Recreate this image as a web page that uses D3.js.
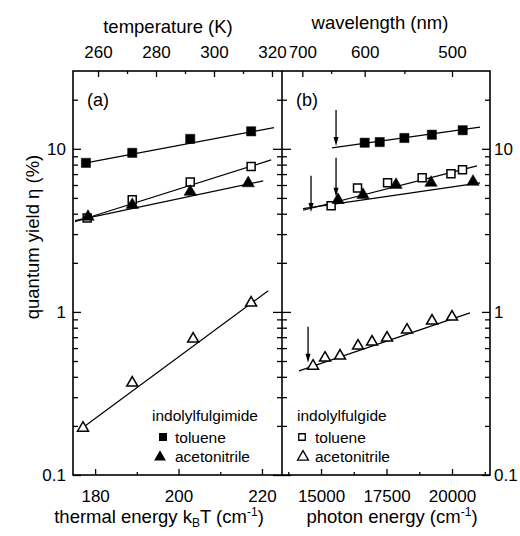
<!DOCTYPE html>
<html>
<head>
<meta charset="utf-8">
<script src="https://cdn.jsdelivr.net/npm/d3@7"></script>
<style>
body { margin: 0; background: #fff; }
svg { font-family: "Liberation Sans", Arial, sans-serif; }
</style>
</head>
<body>
<svg width="520" height="536"></svg>
<script>
// kB in cm^-1 per K
var kB = 0.695;

// panel (a): thermal energy (cm^-1) vs quantum yield (%)
var thermFgmTol = [[177.8, 8.2], [188.9, 9.45], [202.8, 11.5], [217.4, 12.8]];
var thermFgdTol = [[178.1, 3.77], [188.9, 4.87], [202.8, 6.27], [217.4, 7.8]];
var thermFgmAcn = [[178.3, 3.83], [188.9, 4.53], [202.8, 5.45], [216.7, 6.15]];
var thermFgdAcn = [[177.1, 0.194], [188.9, 0.367], [203.5, 0.683], [217.4, 1.135]];

// panel (b): photon energy (cm^-1) vs quantum yield (%)
var photFgmTol = [[16667, 10.9], [17241, 11.0], [18182, 11.65], [19231, 12.2], [20408, 13.0]];
var photFgdTol = [[15385, 4.47], [16393, 5.76], [17540, 6.19], [18860, 6.64], [19960, 7.03], [20400, 7.43]];
var photFgmAcn = [[15649, 4.86], [16603, 5.22], [17863, 6.01], [19198, 6.19], [20802, 6.28]];
var photFgdAcn = [[14695, 0.466], [15153, 0.522], [15725, 0.537], [16412, 0.619], [16947, 0.655],
                  [17519, 0.693], [18282, 0.775], [19237, 0.881], [20000, 0.932]];

// fitted lines, [start, end]
var thermFits = {
  fgmTol: [[177.8, 8.2], [222.9, 13.5]],
  fgdTol: [[175.2, 3.57], [222.2, 8.55]],
  fgmAcn: [[175.2, 3.63], [220.3, 6.36]],
  fgdAcn: [[175.7, 0.184], [221.5, 1.35]]
};
var photFits = {
  fgmTol: [[15420, 10.14], [21069, 13.6]],
  fgdTol: [[14313, 4.2], [20954, 7.86]],
  fgmAcn: [[14313, 4.3], [21069, 6.18]],
  fgdAcn: [[14160, 0.435], [20687, 0.986]]
};
// arrows in panel (b): [photon energy, top value, tip value]
var photArrows = [[15573, 17.3, 10.4], [14618, 6.83, 4.1], [15573, 8.8, 5.08], [14504, 0.81, 0.487]];

// tick values
var yMajor = [0.1, 1, 10];
var yMinor = [0.2, 0.3, 0.4, 0.5, 0.6, 0.7, 0.8, 0.9, 2, 3, 4, 5, 6, 7, 8, 9, 20];
var thermMajor = [180, 200, 220], thermMinor = [190, 210];
var tempMajor = [260, 280, 300, 320], tempMinor = [270, 290, 310];
var photMajor = [15000, 17500, 20000], photMinor = [13750, 16250, 18750, 21250];
var waveMajor = [700, 600, 500], waveMinor = [650, 550];

var svg = d3.select("svg");
var L = 73, M = 282, R = 490, T = 71, B = 475;

var y = d3.scaleLog().domain([0.1, 30]).range([B, T]);
var xa = d3.scaleLinear().domain([174.7, 224.8]).range([L, M]);
var xt = d3.scaleLinear().domain(xa.domain().map(function(e) { return e / kB; })).range([L, M]);
var xb = d3.scaleLinear().domain([13510, 21450]).range([M, R]);

function drawAxis(axis, tx, ty) {
  var g = svg.append("g").attr("transform", "translate(" + tx + "," + ty + ")").call(axis);
  g.attr("font-family", null).attr("font-size", 17);
  g.select(".domain").remove();
  g.selectAll("line").attr("stroke", "#000").attr("stroke-width", 1.3);
  g.selectAll("text").attr("fill", "#000");
  return g;
}
var yFmt = function(d) { return d < 1 ? "0.1" : String(d); };
var none = function() { return ""; };

// y axes
drawAxis(d3.axisLeft(y).tickValues(yMajor).tickFormat(yFmt).tickSize(-8).tickPadding(7).tickSizeOuter(0), L, 0);
drawAxis(d3.axisLeft(y).tickValues(yMinor).tickFormat(none).tickSize(-5).tickSizeOuter(0), L, 0);
drawAxis(d3.axisRight(y).tickValues(yMajor).tickFormat(yFmt).tickSize(-8).tickPadding(4).tickSizeOuter(0), R, 0);
drawAxis(d3.axisRight(y).tickValues(yMinor).tickFormat(none).tickSize(-5).tickSizeOuter(0), R, 0);
drawAxis(d3.axisLeft(y).tickValues(yMajor).tickFormat(none).tickSize(9).tickSizeOuter(0), M, 0);
drawAxis(d3.axisRight(y).tickValues(yMajor).tickFormat(none).tickSize(9).tickSizeOuter(0), M, 0);
drawAxis(d3.axisLeft(y).tickValues(yMinor).tickFormat(none).tickSize(5).tickSizeOuter(0), M, 0);
drawAxis(d3.axisRight(y).tickValues(yMinor).tickFormat(none).tickSize(5).tickSizeOuter(0), M, 0);

// bottom axes
drawAxis(d3.axisBottom(xa).tickValues(thermMajor).tickSize(-6).tickPadding(15).tickSizeOuter(0), 0, B);
drawAxis(d3.axisBottom(xa).tickValues(thermMinor).tickFormat(none).tickSize(-3).tickSizeOuter(0), 0, B);
drawAxis(d3.axisBottom(xb).tickValues(photMajor).tickFormat(d3.format("d")).tickSize(-6).tickPadding(15).tickSizeOuter(0), 0, B);
drawAxis(d3.axisBottom(xb).tickValues(photMinor).tickFormat(none).tickSize(-3).tickSizeOuter(0), 0, B);

// top axes
drawAxis(d3.axisTop(xt).tickValues(tempMajor).tickSize(-6).tickPadding(13).tickSizeOuter(0), 0, T);
drawAxis(d3.axisTop(xt).tickValues(tempMinor).tickFormat(none).tickSize(-3).tickSizeOuter(0), 0, T);
var waveFmt = function(d) { return Math.round(1e7 / d); };
drawAxis(d3.axisTop(xb).tickValues(waveMajor.map(function(l) { return 1e7 / l; })).tickFormat(waveFmt)
  .tickSize(-6).tickPadding(13).tickSizeOuter(0), 0, T);
drawAxis(d3.axisTop(xb).tickValues(waveMinor.map(function(l) { return 1e7 / l; })).tickFormat(none)
  .tickSize(-3).tickSizeOuter(0), 0, T);

// frame
svg.append("rect").attr("x", L).attr("y", T).attr("width", R - L).attr("height", B - T)
  .attr("fill", "none").attr("stroke", "#000").attr("stroke-width", 1.6);
svg.append("line").attr("x1", M).attr("x2", M).attr("y1", T).attr("y2", B)
  .attr("stroke", "#000").attr("stroke-width", 1.6);

// fit lines
function fitLine(pts, x) {
  svg.append("line")
    .attr("x1", x(pts[0][0])).attr("y1", y(pts[0][1]))
    .attr("x2", x(pts[1][0])).attr("y2", y(pts[1][1]))
    .attr("stroke", "#000").attr("stroke-width", 1.2);
}
Object.keys(thermFits).forEach(function(k) { fitLine(thermFits[k], xa); });
Object.keys(photFits).forEach(function(k) { fitLine(photFits[k], xb); });

// markers
var sq = d3.symbol().type(d3.symbolSquare);
var tri = d3.symbol().type(d3.symbolTriangle);
function markers(data, x, sym, size, filled) {
  svg.append("g").selectAll("path").data(data).enter().append("path")
    .attr("transform", function(d) { return "translate(" + x(d[0]) + "," + y(d[1]) + ")"; })
    .attr("d", sym.size(size)())
    .attr("fill", filled ? "#000" : "#fff")
    .attr("stroke", "#000").attr("stroke-width", filled ? 0.5 : 1.5);
}
markers(thermFgmTol, xa, sq, 85, true);
markers(thermFgdTol, xa, sq, 64, false);
markers(thermFgmAcn, xa, tri, 66, true);
markers(thermFgdAcn, xa, tri, 52, false);
markers(photFgmTol, xb, sq, 85, true);
markers(photFgdTol, xb, sq, 64, false);
markers(photFgmAcn, xb, tri, 66, true);
markers(photFgdAcn, xb, tri, 52, false);

// arrows
photArrows.forEach(function(a) {
  var ax = xb(a[0]), y0 = y(a[1]), y1 = y(a[2]);
  svg.append("line").attr("x1", ax).attr("x2", ax).attr("y1", y0).attr("y2", y1 - 6)
    .attr("stroke", "#000").attr("stroke-width", 1.3);
  svg.append("path").attr("d", "M" + (ax - 2.5) + "," + (y1 - 9) + "L" + (ax + 2.5) + "," + (y1 - 9) + "L" + ax + "," + y1 + "Z")
    .attr("fill", "#000");
});

// text
function txt(x, yy, s, size, anchor) {
  return svg.append("text").attr("x", x).attr("y", yy).attr("font-size", size)
    .attr("text-anchor", anchor || "start").attr("fill", "#000").text(s);
}
txt(87, 106, "(a)", 18);
txt(296, 106, "(b)", 18);
txt(168, 33, "temperature (K)", 18.5, "middle");
txt(380, 29, "wavelength (nm)", 18.5, "middle");

var t1 = txt(159, 523, "", 18.5, "middle");
t1.append("tspan").text("thermal energy k");
t1.append("tspan").attr("font-size", 12).attr("dy", 4).text("B");
t1.append("tspan").attr("dy", -4).text("T (cm");
t1.append("tspan").attr("font-size", 12).attr("dy", -7).text("-1");
t1.append("tspan").attr("dy", 7).text(")");

var t2 = txt(392, 523, "", 18.5, "middle");
t2.append("tspan").text("photon energy (cm");
t2.append("tspan").attr("font-size", 12).attr("dy", -7).text("-1");
t2.append("tspan").attr("dy", 7).text(")");

txt(0, 0, "quantum yield \u03b7 (%)", 18.5, "middle").attr("transform", "translate(39,237) rotate(-90)");

// legends
txt(152, 421, "indolylfulgimide", 15.5);
svg.append("path").attr("transform", "translate(163,437)").attr("d", sq.size(64)()).attr("fill", "#000");
txt(175, 443, "toluene", 15.5);
svg.append("path").attr("transform", "translate(160,457)").attr("d", tri.size(60)()).attr("fill", "#000");
txt(175, 462, "acetonitrile", 15.5);

txt(297, 421, "indolylfulgide", 15.5);
svg.append("path").attr("transform", "translate(302,437)").attr("d", sq.size(42)())
  .attr("fill", "#fff").attr("stroke", "#000").attr("stroke-width", 1.3);
txt(315, 443, "toluene", 15.5);
svg.append("path").attr("transform", "translate(303,457)").attr("d", tri.size(52)())
  .attr("fill", "#fff").attr("stroke", "#000").attr("stroke-width", 1.3);
txt(315, 462, "acetonitrile", 15.5);
</script>
</body>
</html>
